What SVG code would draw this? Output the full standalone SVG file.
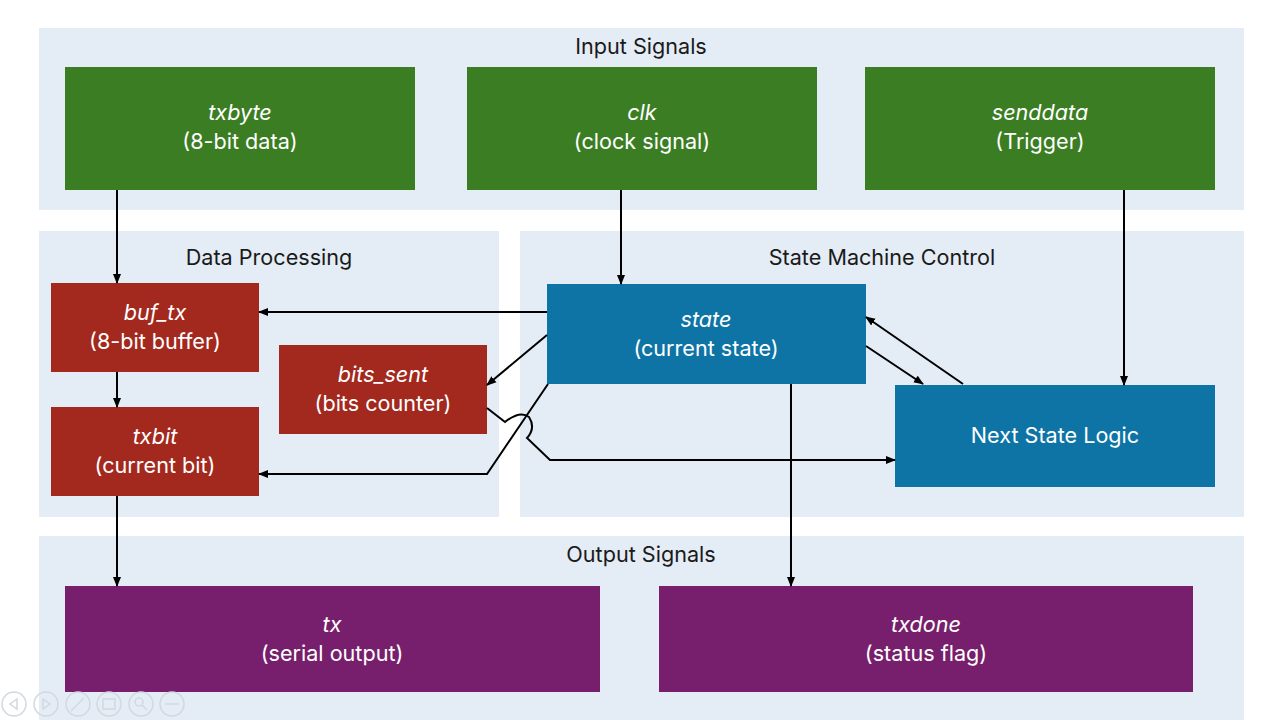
<svg xmlns="http://www.w3.org/2000/svg" width="1280" height="720" viewBox="0 0 1280 720">
<defs>
<marker id="ah" markerWidth="10" markerHeight="10" refX="9" refY="5" orient="auto" markerUnits="userSpaceOnUse">
<path d="M0,1 L10,5 L0,9 Z" fill="#000"/>
</marker>
<style>
.panel{fill:#e4ecf5}
.ptitle{font-family:Inter,"Liberation Sans",sans-serif;font-size:21.6px;fill:#1a1a1a;text-anchor:middle}
.t{font-family:Inter,"Liberation Sans",sans-serif;font-size:21.6px;fill:#fff;text-anchor:middle}
.i{font-style:italic}
.g{fill:#3b7d23}
.r{fill:#a3291e}
.b{fill:#0e74a5}
.p{fill:#771f6c}
.c{fill:none;stroke:#000;stroke-width:2}
.ui{fill:none;stroke:#d3d8de;stroke-width:1.5}
</style>
</defs>
<rect width="1280" height="720" fill="#fff"/>
<g id="panels">
<rect class="panel" x="39" y="28" width="1205" height="182"/>
<text class="ptitle" x="641" y="54">Input Signals</text>
<rect class="panel" x="39" y="231" width="460" height="286"/>
<text class="ptitle" x="269" y="265">Data Processing</text>
<rect class="panel" x="520" y="231" width="724" height="286"/>
<text class="ptitle" x="882" y="265">State Machine Control</text>
<rect class="panel" x="39" y="536" width="1205" height="184"/>
<text class="ptitle" x="641" y="562">Output Signals</text>
</g>
<g id="txbyte"><rect class="g" x="65" y="67" width="350" height="123"/><text class="t i" x="240" y="120">txbyte</text><text class="t" x="240" y="149">(8-bit data)</text></g>
<g id="clk"><rect class="g" x="467" y="67" width="350" height="123"/><text class="t i" x="642" y="120">clk</text><text class="t" x="642" y="149">(clock signal)</text></g>
<g id="senddata"><rect class="g" x="865" y="67" width="350" height="123"/><text class="t i" x="1040" y="120">senddata</text><text class="t" x="1040" y="149">(Trigger)</text></g>
<g id="buf_tx"><rect class="r" x="51" y="283" width="208" height="89"/><text class="t i" x="155" y="320">buf_tx</text><text class="t" x="155" y="349">(8-bit buffer)</text></g>
<g id="txbit"><rect class="r" x="51" y="407" width="208" height="89"/><text class="t i" x="155" y="444">txbit</text><text class="t" x="155" y="473">(current bit)</text></g>
<g id="bits_sent"><rect class="r" x="279" y="345" width="208" height="89"/><text class="t i" x="383" y="382">bits_sent</text><text class="t" x="383" y="411">(bits counter)</text></g>
<g id="state"><rect class="b" x="547" y="284" width="319" height="100"/><text class="t i" x="706" y="327">state</text><text class="t" x="706" y="356">(current state)</text></g>
<g id="next_state_logic"><rect class="b" x="895" y="385" width="320" height="102"/><text class="t" x="1055" y="443">Next State Logic</text></g>
<g id="tx"><rect class="p" x="65" y="586" width="535" height="106"/><text class="t i" x="332" y="632">tx</text><text class="t" x="332" y="661">(serial output)</text></g>
<g id="txdone"><rect class="p" x="659" y="586" width="534" height="106"/><text class="t i" x="926" y="632">txdone</text><text class="t" x="926" y="661">(status flag)</text></g>
<g id="connectors">
<path class="c" d="M117,190 V283" marker-end="url(#ah)"/>
<path class="c" d="M621,190 V284" marker-end="url(#ah)"/>
<path class="c" d="M1124,190 V385" marker-end="url(#ah)"/>
<path class="c" d="M117,372 V407" marker-end="url(#ah)"/>
<path class="c" d="M117,496 V586" marker-end="url(#ah)"/>
<path class="c" d="M791,384 V586" marker-end="url(#ah)"/>
<path class="c" d="M547,312 H259" marker-end="url(#ah)"/>
<path class="c" d="M547,335 L487,385" marker-end="url(#ah)"/>
<path class="c" d="M548,384 L487,474 H259" marker-end="url(#ah)"/>
<path class="c" d="M487,408 L505,422 Q520,410 529,417 Q536,428 527,438 L550,460 H895" marker-end="url(#ah)"/>
<path class="c" d="M866,346 L923,384" marker-end="url(#ah)"/>
<path class="c" d="M963,384 L866,317" marker-end="url(#ah)"/>
</g>
<g id="toolbar">
<circle class="ui" cx="14" cy="704" r="12"/><path class="ui" d="M17,699 L10,704 L17,709 Z"/>
<circle class="ui" cx="46" cy="704" r="12"/><path class="ui" d="M43,699 L50,704 L43,709 Z"/>
<circle class="ui" cx="78" cy="704" r="12"/><path class="ui" d="M71,711 L84,698"/>
<circle class="ui" cx="109" cy="704" r="12"/><rect class="ui" x="103" y="699" width="12" height="10"/>
<circle class="ui" cx="141" cy="704" r="12"/><circle class="ui" cx="139" cy="702" r="4"/><path class="ui" d="M142,705 L147,710"/>
<circle class="ui" cx="172" cy="704" r="12"/><path class="ui" d="M165,704 H179"/>
</g>
</svg>
